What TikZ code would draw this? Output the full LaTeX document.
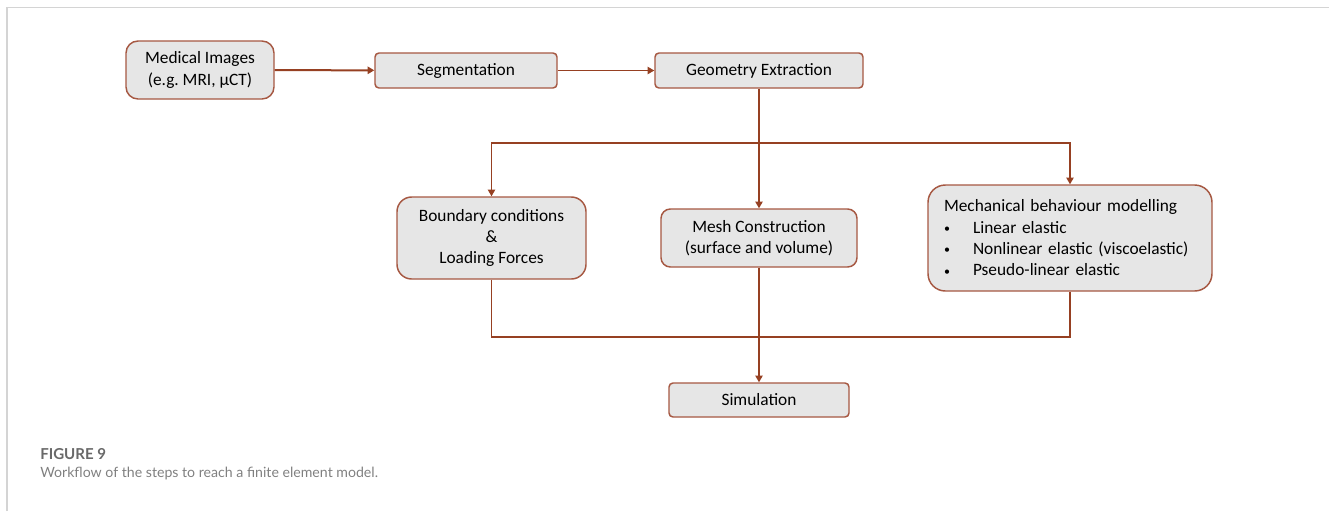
\documentclass[tikz,border=0pt]{standalone}
\usepackage{fontspec}
\setmainfont{Carlito}
\newfontfamily\capfont{Lato}
\usetikzlibrary{arrows.meta}

\definecolor{boxline}{RGB}{166,88,66}
\definecolor{boxfill}{RGB}{230,230,230}
\definecolor{linkcol}{RGB}{150,64,34}
\definecolor{framecol}{RGB}{212,212,212}
\definecolor{capgray}{RGB}{105,105,105}

\newcommand{\bulitem}{\makebox[21.75pt][l]{\fontsize{9}{9}\selectfont\raisebox{0.5pt}{•}}}

\tikzset{
  stepbox/.style={draw=boxline, fill=boxfill, line width=1.1pt, rounded corners=3pt,
    font=\fontsize{13}{16}\selectfont, align=center, inner sep=0pt},
  bigbox/.style={stepbox, rounded corners=9pt},
  link/.style={draw=linkcol, line width=1pt},
  arr/.style={link, -{Triangle[length=5pt,width=5.5pt]}},
}

\begin{document}
\begin{tikzpicture}[x=0.75pt, y=-0.75pt]

\def \branchy{143}
\def \joiny{337}

\useasboundingbox (0,0) rectangle (1329,511);

% frame
\draw [framecol, line width=1.1pt] (7,511) -- (7,7.5) -- (1329,7.5);

% top row
\node [bigbox, minimum width=111pt, minimum height=43.5pt] (med) at (200,70) {Medical Images\\(e.g.\ MRI, µCT)};
\node [stepbox, minimum width=136.5pt, minimum height=26.25pt] (seg) at (466,70.5) {Segmentation};
\node [stepbox, minimum width=156pt, minimum height=26.25pt] (geo) at (759,70.5) {Geometry Extraction};

% middle row
\node [bigbox, rounded corners=11pt, minimum width=141.75pt, minimum height=61.5pt] (bnd) at (491.5,238) {Boundary conditions\\\&\\Loading Forces};
\node [bigbox, rounded corners=7pt, minimum width=147pt, minimum height=43.5pt] (mesh) at (759,238) {Mesh Construction\\(surface and volume)};
\node [bigbox, rounded corners=13pt, text width=189pt, inner xsep=12pt, minimum height=79.5pt, align=left] (mech) at (1070,238)
  {Mechanical behaviour modelling\\
   \bulitem Linear elastic\\
   \bulitem Nonlinear elastic (viscoelastic)\\
   \bulitem Pseudo-linear elastic};

% bottom
\node [stepbox, minimum width=135pt, minimum height=25.5pt] (sim) at (759,400) {Simulation};

\coordinate (split) at (759,\branchy);
\coordinate (join) at (759,\joiny);

% connectors
\draw [arr, line width=1.5pt] (med) -- (seg);
\draw [arr] (seg) -- (geo);
\draw [link] (geo) -- (split);
\draw [arr] (split) -| (bnd);
\draw [arr] (split) -| (mech);
\draw [arr] (split) -- (mesh);
\draw [link] (bnd) |- (join);
\draw [link] (mech) |- (join);
\draw [arr] (mesh) -- (sim);

% caption
\node [anchor=base west, inner sep=0pt, font=\capfont\bfseries\fontsize{11.3}{14}\selectfont, text=capgray] (fig) at (40,459) {FIGURE 9};
\node [anchor=base west, inner sep=0pt, font=\capfont\fontsize{10.6}{14}\selectfont, text=capgray!85] (cap) at (40,477) {Workflow of the steps to reach a finite element model.};

\end{tikzpicture}
\end{document}
